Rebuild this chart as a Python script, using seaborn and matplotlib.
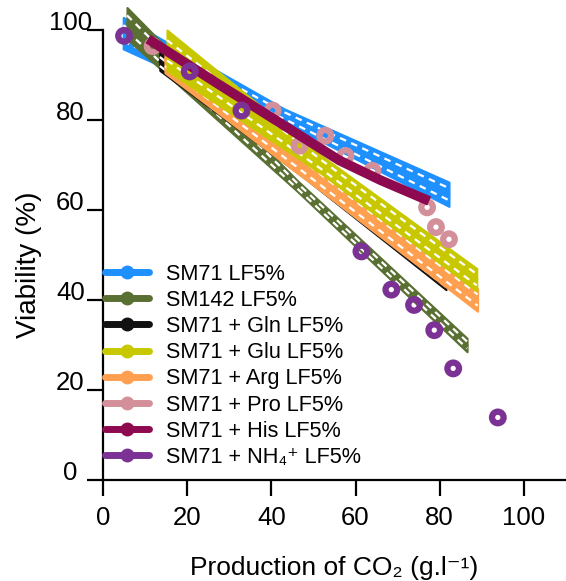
import matplotlib
matplotlib.use("Agg")
import matplotlib.pyplot as plt
from matplotlib.lines import Line2D
import numpy as np
import seaborn as sns

# fitted lines (x, viability, half width of the hatched band)
sm71_x = [4.8, 43, 82.2]
sm71_y = [99.3, 81.0, 63.5]
sm71_hw = [3.5, 1.5, 2.7]

sm142_x = [5.7, 46, 86.5]
sm142_y = [101.5, 65.5, 30.0]
sm142_hw = [3.5, 1.2, 1.5]

gln_x = [13.5, 47.5, 81.5]
gln_y = [93.0, 68.2, 43.5]
gln_hw = [2.0, 0.8, 1.2]

arg_x = [14.7, 52, 89]
arg_y = [93.5, 66.5, 40.0]
arg_hw = [3.0, 2.4, 2.5]

glu_x = [15.2, 52, 88.8]
glu_y = [95.5, 70.0, 44.5]
glu_hw = [4.5, 2.0, 2.5]

# His curve (no visible band)
his_x = [10.7, 27.7, 44, 56.2, 66, 77.5]
his_y = [98.0, 87.8, 78.2, 71.0, 66.6, 62.0]

# measured points
pro_x = [11.8, 40.3, 46.7, 52.8, 57.6, 64.0, 77.0, 79.1, 82.2]
pro_y = [96.4, 82.1, 74.3, 76.5, 72.0, 68.7, 60.6, 56.2, 53.5]

nh4_x = [5.0, 20.6, 32.9, 61.4, 68.5, 73.9, 78.7, 83.2, 93.8]
nh4_y = [98.7, 90.8, 82.1, 50.8, 42.3, 38.9, 33.3, 24.8, 13.9]

ticks = [0, 20, 40, 60, 80, 100]
labels = ["SM71 LF5%", "SM142 LF5%", "SM71 + Gln LF5%", "SM71 + Glu LF5%",
          "SM71 + Arg LF5%", "SM71 + Pro LF5%", "SM71 + His LF5%",
          "SM71 + NH\u2084\u207a LF5%"]
colors = ["#1e90ff", "#5a7032", "#111111", "#c8c800",
          "#ffa050", "#d4909a", "#8e0a50", "#7b3294"]

sns.set_style("ticks")
plt.rcParams["font.family"] = ["Liberation Sans", "DejaVu Sans"]
plt.rcParams["text.color"] = "black"
plt.rcParams["axes.labelcolor"] = "black"

fig = plt.figure(figsize=(5.66, 5.81), dpi=100)
ax = fig.add_axes([103 / 566, 101 / 581, 463 / 566, 450 / 581])


def draw_band(x, y, hw, color, z):
    x, y, hw = np.array(x), np.array(y), np.array(hw)
    ax.fill_between(x, y - hw, y + hw, facecolor=color, edgecolor=color,
                    lw=1.5, clip_on=False, zorder=z)
    sns.lineplot(x=x, y=y, color=color, lw=2, ax=ax, zorder=z, clip_on=False)
    for k in (-0.5, 0.5):
        ax.plot(x, y + k * hw, color="white", lw=1.6, ls=(0, (3, 2.5)),
                clip_on=False, zorder=z)


draw_band(sm71_x, sm71_y, sm71_hw, colors[0], 2)
draw_band(sm142_x, sm142_y, sm142_hw, colors[1], 3)
draw_band(gln_x, gln_y, gln_hw, colors[2], 3.5)
draw_band(arg_x, arg_y, arg_hw, colors[4], 4)
draw_band(glu_x, glu_y, glu_hw, colors[3], 4.5)

sns.scatterplot(x=pro_x, y=pro_y, s=70, facecolor="none", edgecolor=colors[5],
                linewidth=4.5, ax=ax, zorder=5, clip_on=False)
sns.lineplot(x=his_x, y=his_y, color=colors[6], lw=7, ax=ax, zorder=6,
             clip_on=False, solid_capstyle="butt")
sns.scatterplot(x=nh4_x, y=nh4_y, s=70, facecolor="none", edgecolor=colors[7],
                linewidth=4.5, ax=ax, zorder=7, clip_on=False)

ax.set_xlim(0, 110)
ax.set_ylim(0, 100)
ax.set_xticks(ticks, labels=[str(t) for t in ticks])
ax.set_yticks(ticks, labels=[str(t) for t in ticks], ha="center", va="baseline")
sns.despine(ax=ax)
for s in ("left", "bottom"):
    ax.spines[s].set_linewidth(1.6)
    ax.spines[s].set_color("black")
ax.tick_params(direction="out", length=11.5, width=1.6, labelsize=18.5,
               colors="black")
ax.tick_params(axis="x", pad=7.5)
ax.tick_params(axis="y", pad=12)
ax.set_xlabel("Production of CO\u2082 (g.l\u207b\u00b9)", fontsize=19)
ax.xaxis.set_label_coords(0.5, -0.17)
ax.set_ylabel("Viability (%)", fontsize=20)
ax.yaxis.set_label_coords(-0.132, 0.478)

handles = [Line2D([0], [0], color=c, lw=5, marker="o", ms=9) for c in colors]
ax.legend(handles, labels, loc="upper left", bbox_to_anchor=(0.004, 0.481),
          frameon=False, fontsize=15.6, handlelength=2.03, handletextpad=0.78,
          labelspacing=0.24, borderpad=0, borderaxespad=0)

fig.savefig("out.png", dpi=100)
